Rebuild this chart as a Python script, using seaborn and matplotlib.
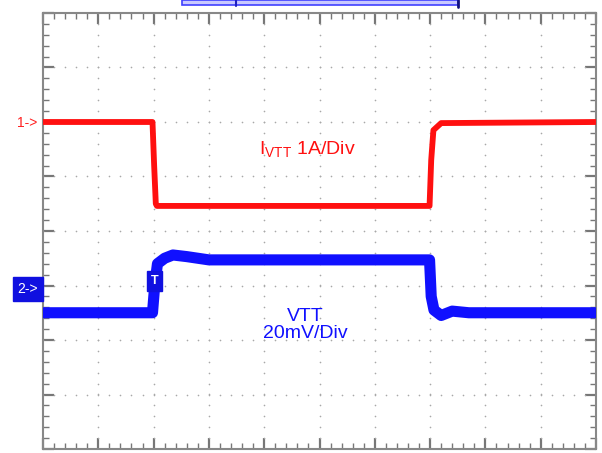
import numpy as np
import pandas as pd
import matplotlib
matplotlib.use("Agg")
import matplotlib.pyplot as plt
from matplotlib.ticker import MultipleLocator
from matplotlib.patches import Rectangle
import seaborn as sns

# ---- data (scope divisions: x 0..10, y -4..4) ----
red_t = [0.0, 1.98, 2.01, 2.04, 2.06, 6.99, 7.02, 7.06, 7.2, 10.0]
red_v = [2.0, 2.0, 1.2, 0.5, 0.46, 0.46, 1.3, 1.85, 1.98, 2.0]

blue_t = [0.0, 1.98, 2.02, 2.07, 2.2, 2.35, 2.6, 3.0, 5.0, 6.99, 7.02, 7.07, 7.2, 7.4, 7.7, 10.0]
blue_v = [-1.5, -1.5, -1.0, -0.6, -0.5, -0.44, -0.47, -0.53, -0.53, -0.53, -1.2, -1.45, -1.55, -1.47, -1.5, -1.5]

x_divs = 10
y_divs = 8

red_label = r"I$_\mathregular{VTT}$ 1A/Div"
blue_label = "VTT\n20mV/Div"

sns.set_style("white")
plt.rcParams['font.family'] = ['Liberation Sans', 'DejaVu Sans']

fig = plt.figure(figsize=(6.02, 4.53), dpi=100)
W, H = 602, 453
ax = fig.add_axes([43 / W, (H - 449) / H, 553 / W, 436 / H])

ax.set_xlim(0, x_divs)
ax.set_ylim(-y_divs / 2, y_divs / 2)

# grid dots
gx, gy = [], []
for xv in range(1, x_divs):
    for yv in np.arange(-y_divs / 2, y_divs / 2 + 0.01, 0.2):
        gx.append(xv); gy.append(yv)
for yv in range(-y_divs // 2 + 1, y_divs // 2):
    for xv in np.arange(0, x_divs + 0.01, 0.2):
        gx.append(xv); gy.append(yv)
ax.scatter(gx, gy, s=1.4, color="#a8a8a8", linewidths=0, zorder=1)

df_red = pd.DataFrame({"t": red_t, "v": red_v})
df_blue = pd.DataFrame({"t": blue_t, "v": blue_v})
sns.lineplot(data=df_red, x="t", y="v", color="#ff1010", linewidth=4.2, ax=ax,
             estimator=None, sort=False, zorder=3, solid_joinstyle="round")
sns.lineplot(data=df_blue, x="t", y="v", color="#1010ff", linewidth=8.0, ax=ax,
             estimator=None, sort=False, zorder=3, solid_joinstyle="round")

ax.set_xlabel("")
ax.set_ylabel("")

# ticks like scope graticule
for axis in (ax.xaxis, ax.yaxis):
    axis.set_major_locator(MultipleLocator(1))
    axis.set_minor_locator(MultipleLocator(0.2))
ax.tick_params(which="both", direction="in", top=True, right=True, bottom=True, left=True,
               labelbottom=False, labelleft=False, color="#777777")
ax.tick_params(which="major", length=8, width=1.6)
ax.tick_params(which="minor", length=4, width=1.0)
for s in ax.spines.values():
    s.set_color("#888888")
    s.set_linewidth(1.5)

# annotations
ax.text((259 - 43) / 55.3, (231 - 150) / 54.5, red_label, color="#ff1010",
        fontsize=14, ha="left", va="center", zorder=4)
ax.text((305 - 43) / 55.3, (231 - 325) / 54.5, blue_label, color="#1010ff",
        fontsize=14, ha="center", va="center", linespacing=1.05, zorder=4)

# trigger marker
ax.text((154.5 - 43) / 55.3, (231 - 281) / 54.5, "T", color="white", fontsize=9,
        fontweight="bold", ha="center", va="center", zorder=5,
        bbox=dict(boxstyle="square,pad=0.3", fc="#1010e0", ec="#1010e0"))

# channel markers (outside axes)
fig.text(27 / W, 1 - 123 / H, "1->", color="#ff2020", fontsize=10, ha="center", va="center")
fig.text(28 / W, 1 - 289 / H, "2->", color="white", fontsize=10, ha="center", va="center",
         bbox=dict(boxstyle="square,pad=0.35", fc="#1010e0", ec="#1010e0"))

# top bracket
fig.patches.append(Rectangle((182 / W, 1 - 5 / H), (458 - 182) / W, 5 / H,
                             transform=fig.transFigure, fc="#c8c8ff", ec="#4040ff", lw=1.2))
fig.lines.append(plt.Line2D([236 / W, 236 / W], [1 - 6 / H, 1.0], transform=fig.transFigure,
                            color="#2020c0", lw=1.5))
fig.lines.append(plt.Line2D([458 / W, 458 / W], [1 - 7 / H, 1.0], transform=fig.transFigure,
                            color="#101080", lw=2))

fig.savefig("out.png", dpi=100)
